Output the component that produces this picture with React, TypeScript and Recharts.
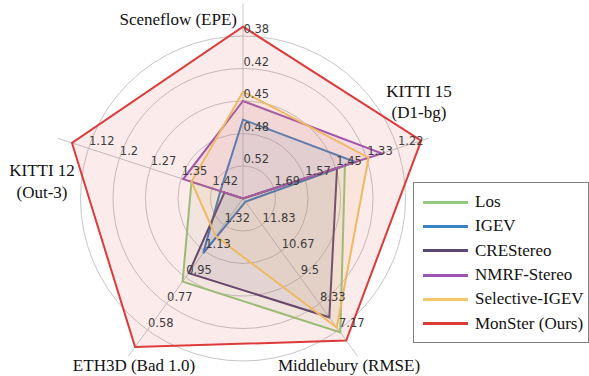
import React from 'react';
import { RadarChart, Radar, PolarGrid, PolarAngleAxis, PolarRadiusAxis } from 'recharts';

// Axes (clockwise from top)
const metrics = ['Sceneflow (EPE)', 'KITTI 15\n(D1-bg)', 'Middlebury (RMSE)', 'ETH3D (Bad 1.0)', 'KITTI 12\n(Out-3)'];

// Tick labels per axis, from the innermost ring (1) to the outermost ring (5)
const sceneflowTicks = ['0.52', '0.48', '0.45', '0.42', '0.38'];
const kitti15Ticks = ['1.69', '1.57', '1.45', '1.33', '1.22'];
const middleburyTicks = ['11.83', '10.67', '9.5', '8.33', '7.17'];
const eth3dTicks = ['1.32', '1.13', '0.95', '0.77', '0.58'];
const kitti12Ticks = ['1.42', '1.35', '1.27', '1.2', '1.12'];
const axisTicks = [sceneflowTicks, kitti15Ticks, middleburyTicks, eth3dTicks, kitti12Ticks];

// Value at ring 1 and at ring 5 for each axis (lower error = farther out)
const ringOneValues = [0.52, 1.69, 11.83, 1.32, 1.42];
const ringFiveValues = [0.38, 1.22, 7.17, 0.58, 1.12];

// Series values (Sceneflow, KITTI15, Middlebury, ETH3D, KITTI12)
const losValues = [0.56, 1.42, 7.06, 0.92, 1.37];
const igevValues = [0.47, 1.38, 12.85, 1.12, 1.44];
const creStereoValues = [0.56, 1.45, 7.73, 0.98, 1.45];
const nmrfValues = [0.45, 1.28, 13.0, 1.51, 1.35];
const selectiveValues = [0.44, 1.33, 7.28, 1.24, 1.37];
const monsterValues = [0.37, 1.13, 6.7, 0.46, 1.08];

const seriesNames = ['Los', 'IGEV', 'CREStereo', 'NMRF-Stereo', 'Selective-IGEV', 'MonSter (Ours)'];
const seriesValues = [losValues, igevValues, creStereoValues, nmrfValues, selectiveValues, monsterValues];
const seriesColors = ['#93c97e', '#3a82c4', '#5a4872', '#9b55b5', '#f0c868', '#dd3a3a'];

const toRing = (v: number, i: number) => {
  const step = (ringOneValues[i] - ringFiveValues[i]) / 4;
  return Math.max(0, 1 + (ringOneValues[i] - v) / step);
};

const data = metrics.map((m, i) => {
  const row: Record<string, any> = { metric: m };
  seriesNames.forEach((s, k) => {
    row[s] = toRing(seriesValues[k][i], i);
  });
  return row;
});

const CX = 243;
const CY = 198.5;
const RING = 32.5;
const OUTER = RING * 6;

const labelLayout = [
  { x: 237, y: 24.5, anchor: 'end' },
  { x: 419, y: 96.7, anchor: 'middle' },
  { x: 349, y: 371, anchor: 'middle' },
  { x: 134, y: 371, anchor: 'middle' },
  { x: 42, y: 176, anchor: 'middle' },
];

const serif = "'Liberation Serif', 'Times New Roman', serif";
const sans = "'DejaVu Sans', sans-serif";

function AngleTick(props: any) {
  const { payload } = props;
  const i = payload?.index ?? props.index;
  const angle = payload.coordinate;
  const rad = (angle * Math.PI) / 180;
  const cx = props.cx ?? CX;
  const cy = props.cy ?? CY;
  const ticks = axisTicks[i];
  const lay = labelLayout[i];
  const lines = String(payload.value).split('\n');
  return (
    <g>
      {ticks.map((t, k) => {
        const r = RING * (k + 1);
        const x = cx + r * Math.cos(rad);
        const y = cy - r * Math.sin(rad);
        return (
          <text key={k} x={x + 0.5} y={y - 3} textAnchor="start" fontFamily={sans} fontSize={11.5} fill="#3c3c3c">
            {t}
          </text>
        );
      })}
      <text x={lay.x} y={lay.y} textAnchor={lay.anchor as any} fontFamily={serif} fontSize={17} fill="#111">
        {lines.map((ln, j) => (
          <tspan key={j} x={lay.x} dy={j === 0 ? 0 : 21.5}>
            {ln}
          </tspan>
        ))}
      </text>
    </g>
  );
}

export default function App() {
  return (
    <div style={{ position: 'absolute', left: 0, top: 0, width: 589, height: 376, background: '#fff' }}>
      <RadarChart
        width={589}
        height={376}
        data={data}
        cx={CX}
        cy={CY}
        outerRadius={OUTER}
        startAngle={90}
        endAngle={-270}
        margin={{ top: 0, right: 0, bottom: 0, left: 0 }}
      >
        <PolarGrid
          gridType="circle"
          polarRadius={[RING, RING * 2, RING * 3, RING * 4, RING * 5]}
          stroke="#c6c6c6"
          strokeWidth={1}
        />
        <PolarRadiusAxis domain={[0, 6]} type="number" tick={false} axisLine={false} tickCount={7} />
        {seriesNames.map((s, k) => (
          <Radar
            key={s}
            name={s}
            dataKey={s}
            stroke={seriesColors[k]}
            strokeWidth={2}
            fill={seriesColors[k]}
            fillOpacity={0.1}
            dot={false}
            isAnimationActive={false}
          />
        ))}
        <PolarAngleAxis dataKey="metric" tick={<AngleTick />} tickLine={false} axisLine={false} />
      </RadarChart>
      <div
        style={{
          position: 'absolute',
          left: 413,
          top: 182,
          width: 176,
          height: 161,
          boxSizing: 'border-box',
          border: '1px solid #808080',
          background: '#fff',
          fontFamily: serif,
          fontSize: 17,
          color: '#111',
        }}
      >
        {seriesNames.map((s, k) => (
          <div
            key={s}
            style={{ position: 'absolute', left: 0, top: 19 + k * 24.35 - 12, height: 24, display: 'flex', alignItems: 'center' }}
          >
            <div style={{ marginLeft: 9, width: 45, height: 3, background: seriesColors[k] }} />
            <span style={{ marginLeft: 7, whiteSpace: 'nowrap', lineHeight: '24px' }}>{s}</span>
          </div>
        ))}
      </div>
    </div>
  );
}
